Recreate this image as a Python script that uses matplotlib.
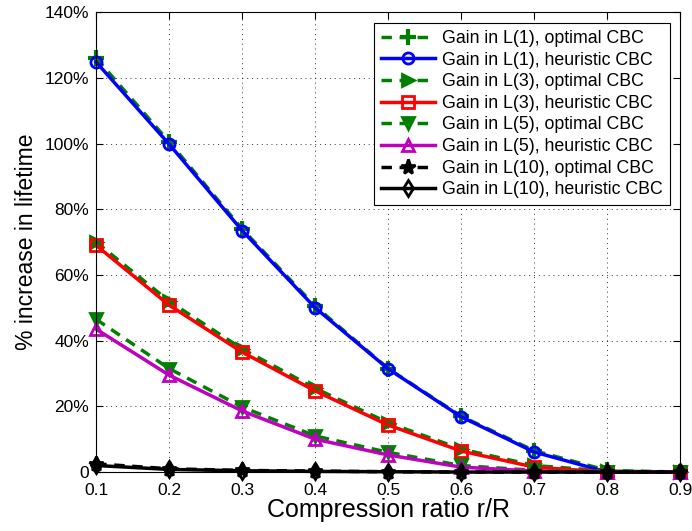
import numpy as np
import matplotlib
matplotlib.use("Agg")
import matplotlib.pyplot as plt
from matplotlib.ticker import FuncFormatter

plt.rcParams["font.family"] = ["Liberation Sans", "DejaVu Sans"]

ratio = [0.1, 0.2, 0.3, 0.4, 0.5, 0.6, 0.7, 0.8, 0.9]
l1_opt = [126.0, 100.5, 74.0, 50.5, 31.5, 17.0, 6.5, 0.5, 0.0]
l1_heu = [124.8, 99.8, 73.5, 50.0, 31.4, 16.8, 6.1, 0.0, 0.0]
l3_opt = [70.0, 52.0, 37.5, 25.5, 15.0, 7.0, 2.0, 0.3, 0.0]
l3_heu = [69.0, 50.8, 36.5, 24.7, 14.3, 6.4, 1.5, 0.0, 0.0]
l5_opt = [46.5, 31.5, 19.8, 11.0, 6.0, 2.0, 0.5, 0.0, 0.0]
l5_heu = [43.5, 29.5, 18.6, 10.0, 5.2, 1.5, 0.3, 0.0, 0.0]
l10_opt = [2.5, 1.0, 0.5, 0.3, 0.1, 0.0, 0.0, 0.0, 0.0]
l10_heu = [2.0, 0.8, 0.4, 0.2, 0.1, 0.0, 0.0, 0.0, 0.0]

GREEN = "#008000"
series = [
    (l1_opt, "Gain in L(1), optimal CBC", GREEN, "--", "+"),
    (l1_heu, "Gain in L(1), heuristic CBC", "blue", "-", "o"),
    (l3_opt, "Gain in L(3), optimal CBC", GREEN, "--", ">"),
    (l3_heu, "Gain in L(3), heuristic CBC", "red", "-", "s"),
    (l5_opt, "Gain in L(5), optimal CBC", GREEN, "--", "v"),
    (l5_heu, "Gain in L(5), heuristic CBC", "m", "-", "^"),
    (l10_opt, "Gain in L(10), optimal CBC", "black", "--", "*"),
    (l10_heu, "Gain in L(10), heuristic CBC", "black", "-", "d"),
]

fig = plt.figure(figsize=(6.92, 5.31), dpi=100)
ax = fig.add_axes([0.139, 0.111, 0.844, 0.866])

for y, lab, c, ls, m in series:
    filled = m in ("*", "+", ">", "v")
    ms = {"+": 12, "*": 11}.get(m, 8)
    ax.plot(ratio, y, ls=ls, color=c, lw=2.5, marker=m, ms=ms,
            mew=3 if m == "+" else 2, mfc=c if filled else "none", mec=c,
            dashes=(3, 2.2) if ls == "--" else (None, None),
            label=lab, clip_on=False)

ax.set_xlim(0.1, 0.9)
ax.set_ylim(0, 140)
ax.set_xticks(ratio)
ax.set_yticks(np.arange(0, 141, 20))
ax.yaxis.set_major_formatter(FuncFormatter(lambda v, p: "0" if v == 0 else f"{v:.0f}%"))
ax.tick_params(direction="in", labelsize=12.5, top=True, right=True, length=5)
ax.tick_params(axis="x", pad=8)
ax.tick_params(axis="y", pad=5)
ax.grid(True, ls=(0, (1, 4)), color="black", lw=0.7, alpha=0.8)
ax.set_xlabel("Compression ratio r/R", fontsize=18, labelpad=0)
ax.set_ylabel("% increase in lifetime", fontsize=16.5, labelpad=5)

leg = ax.legend(loc="upper right", fontsize=12.8, frameon=True, fancybox=False,
                edgecolor="black", handlelength=3.0, handletextpad=0.4,
                labelspacing=0.26, borderpad=0.4, borderaxespad=0.6, framealpha=1)
leg.get_frame().set_linewidth(0.8)

fig.savefig("out.png", dpi=100)
